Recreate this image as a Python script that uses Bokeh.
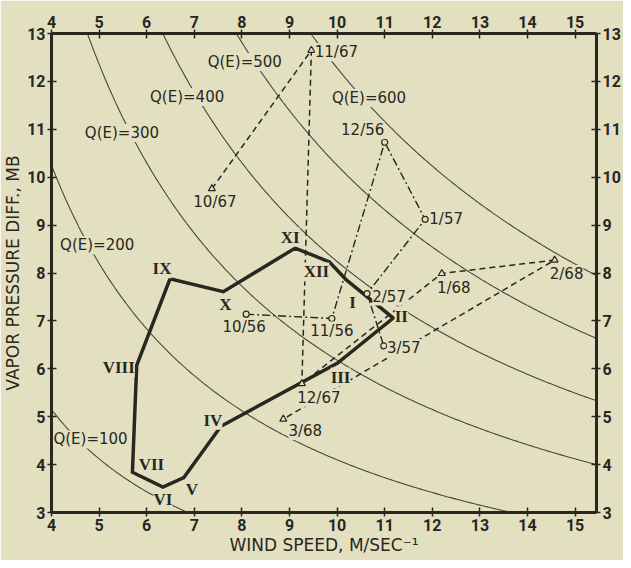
import numpy as np
from bokeh.plotting import figure
from bokeh.models import Range1d, LinearAxis, FixedTicker, Label
from bokeh.embed import file_html
from bokeh.resources import INLINE

# ---------------- data ----------------
month_names = ["I", "II", "III", "IV", "V", "VI", "VII", "VIII", "IX", "X", "XI", "XII"]
month_wind = [10.2, 11.18, 10.01, 7.56, 6.78, 6.34, 5.70, 5.79, 6.49, 7.61, 9.12, 9.84]
month_vpd = [7.85, 7.06, 6.12, 4.80, 3.73, 3.53, 3.84, 6.07, 7.88, 7.61, 8.52, 8.23]

s5657_names = ["10/56", "11/56", "12/56", "1/57", "2/57", "3/57"]
s5657_wind = [8.09, 9.89, 11.0, 11.85, 10.63, 10.98]
s5657_vpd = [7.14, 7.05, 10.73, 9.12, 7.57, 6.48]

s6768_names = ["10/67", "11/67", "12/67", "1/68", "2/68", "3/68"]
s6768_wind = [7.37, 9.46, 9.26, 12.2, 14.57, 8.87]
s6768_vpd = [9.76, 12.65, 5.69, 7.99, 8.27, 4.95]

qe_levels = [100, 200, 300, 400, 500, 600]
qe_product = [20.6, 41.0, 61.8, 82.4, 102.5, 122.8]   # wind * vpd along each isopleth
qe_label_wind = [4.82, 4.96, 5.48, 6.85, 8.06, 10.67]

x_ticks = list(range(4, 16))
y_ticks = list(range(3, 14))

# ---------------- styles / layout ----------------
BG = "#e3e0c2"
INK = "#2a2620"
CURVE = "#4a453c"

month_off = {"I": (6, -22), "II": (8, 2), "III": (3, -14), "IV": (-8, 6), "V": (8, -12),
             "VI": (0, -12), "VII": (19, 8), "VIII": (-18, -2), "IX": (-8, 10),
             "X": (2, -13), "XI": (-5, 11), "XII": (-13, -10)}
s5657_off = [(-2, -13), (0, -12), (-22, 12), (21, 0), (22, -3), (20, -2)]
s6768_off = [(3, -13), (25, -2), (17, -14), (12, -15), (12, -14), (22, -12)]
qe_off = [(0, 12), (0, 15), (0, -17), (0, -17), (0, -15), (0, 7)]

p = figure(width=623, height=560, output_backend="svg", toolbar_location=None,
           x_range=Range1d(4, 15.45), y_range=Range1d(3, 13),
           min_border_left=49, min_border_right=25, min_border_top=33, min_border_bottom=48,
           background_fill_color=BG, border_fill_color=BG, outline_line_color=None)
p.grid.visible = False

p.xaxis.axis_label = "WIND SPEED, M/SEC\u207b\u00b9"
p.yaxis.axis_label = "VAPOR PRESSURE DIFF., MB"
p.add_layout(LinearAxis(), "above")
p.add_layout(LinearAxis(), "right")

for ax in p.xaxis + p.yaxis:
    is_x = ax in p.xaxis
    ax.ticker = FixedTicker(ticks=x_ticks if is_x else y_ticks)
    ax.axis_line_width = 3
    ax.axis_line_color = INK
    ax.major_tick_line_color = INK
    ax.major_tick_line_width = 1.5
    ax.major_tick_in = 5
    ax.major_tick_out = 4
    ax.minor_tick_line_color = None
    ax.major_label_text_font = "Roboto"
    ax.major_label_text_font_style = "bold"
    ax.major_label_text_font_size = "16px"
    ax.major_label_text_color = INK
    ax.major_label_standoff = 2
    ax.axis_label_text_font = "DejaVu Sans"
    ax.axis_label_text_font_style = "normal"
    ax.axis_label_text_font_size = "17px"
    ax.axis_label_text_color = INK
    ax.axis_label_standoff = 1

# Q(E) isopleths
xs = np.linspace(4, 15.45, 300)
for prod in qe_product:
    p.line(xs, prod / xs, line_color=CURVE, line_width=1.1)

# monthly mean polygon (closed)
p.line(month_wind + month_wind[:1], month_vpd + month_vpd[:1], line_color=INK, line_width=3.5,
       line_join="miter")

# 1956-57 series
p.line(s5657_wind, s5657_vpd, line_color=INK, line_width=1.4, line_dash="8 3 2 3")
p.scatter(s5657_wind, s5657_vpd, marker="circle", size=6, fill_color=BG, line_color=INK, line_width=1.2)

# 1967-68 series
p.line(s6768_wind, s6768_vpd, line_color=INK, line_width=1.5, line_dash="6 4")
p.scatter(s6768_wind, s6768_vpd, marker="triangle", size=7, fill_color=BG, line_color=INK, line_width=1.2)


def add_label(x, y, text, dx, dy, font, size, style="normal"):
    p.add_layout(Label(x=x, y=y, text=text, x_offset=dx, y_offset=dy,
                       text_align="center", text_baseline="middle",
                       text_font=font, text_font_size=size, text_font_style=style,
                       text_color=INK, background_fill_color=BG, background_fill_alpha=1.0))


for n, xw, yv in zip(month_names, month_wind, month_vpd):
    dx, dy = month_off[n]
    add_label(xw, yv, n, dx, dy, "Liberation Serif", "17px", "bold")

for n, xw, yv, (dx, dy) in zip(s5657_names, s5657_wind, s5657_vpd, s5657_off):
    add_label(xw, yv, n, dx, dy, "DejaVu Sans", "15px")

for n, xw, yv, (dx, dy) in zip(s6768_names, s6768_wind, s6768_vpd, s6768_off):
    add_label(xw, yv, n, dx, dy, "DejaVu Sans", "15px")

for q, prod, xw, (dx, dy) in zip(qe_levels, qe_product, qe_label_wind, qe_off):
    add_label(xw, prod / xw, f"Q(E)={q}", dx, dy, "DejaVu Sans", "15px")

open("out.html", "w").write(file_html(p, INLINE))
